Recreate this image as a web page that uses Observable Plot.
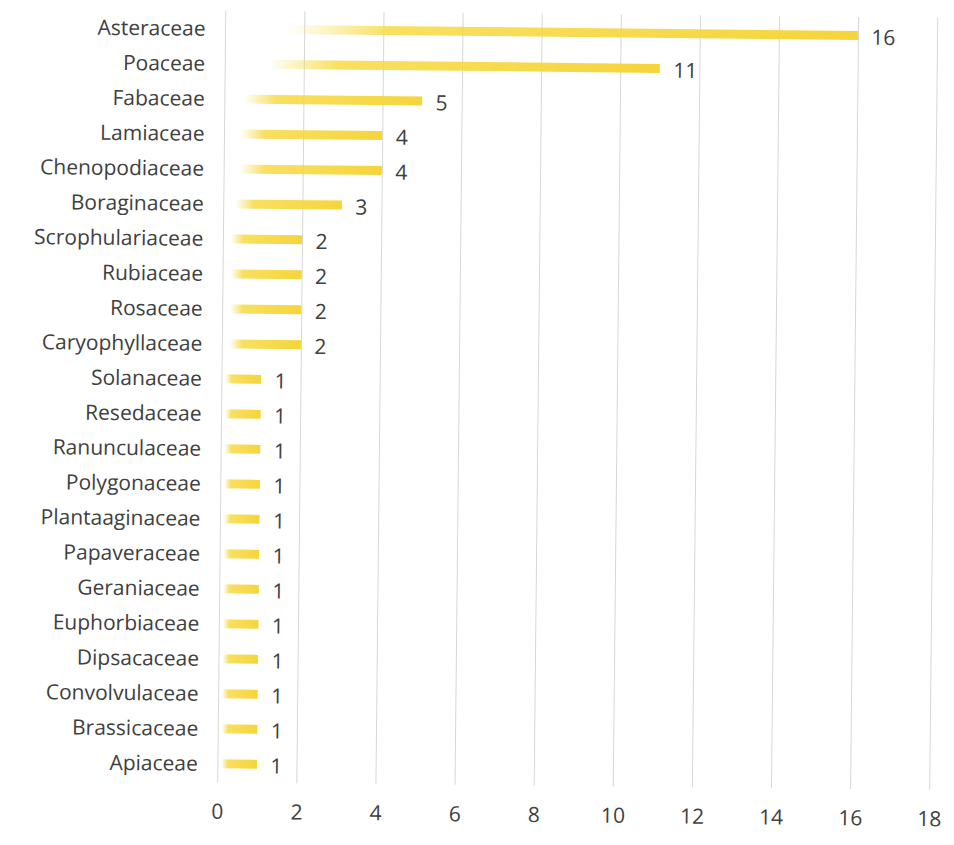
<!DOCTYPE html>
<html>
<head>
<meta charset="utf-8">
<script src="https://cdn.jsdelivr.net/npm/d3@7"></script>
<script src="https://cdn.jsdelivr.net/npm/@observablehq/plot@0.6"></script>
<style>
  html, body { margin: 0; padding: 0; background: #ffffff; overflow: hidden; }
  #chart { width: 954px; height: 845px; }
  #chart svg { transform: rotate(0.6deg); transform-origin: 50% 50%; }
</style>
</head>
<body>
<div id="chart"></div>
<script>
// Plant families and number of species recorded in each
const families = [
  "Asteraceae", "Poaceae", "Fabaceae", "Lamiaceae", "Chenopodiaceae",
  "Boraginaceae", "Scrophulariaceae", "Rubiaceae", "Rosaceae", "Caryophyllaceae",
  "Solanaceae", "Resedaceae", "Ranunculaceae", "Polygonaceae", "Plantaaginaceae",
  "Papaveraceae", "Geraniaceae", "Euphorbiaceae", "Dipsacaceae", "Convolvulaceae",
  "Brassicaceae", "Apiaceae"
];
const counts = [16, 11, 5, 4, 4, 3, 2, 2, 2, 2, 1, 1, 1, 1, 1, 1, 1, 1, 1, 1, 1, 1];
const xTicks = [0, 2, 4, 6, 8, 10, 12, 14, 16, 18];

const data = families.map((family, i) => ({family, count: counts[i]}));

const font = "'Open Sans', sans-serif";
const textColor = "#404040";

// Soft highlighter-style fill: fades in from the left of each bar
const gradientDefs = () => {
  const defs = d3.create("svg:defs");
  const g = defs.append("linearGradient")
    .attr("id", "barFade")
    .attr("x1", 0).attr("x2", 1).attr("y1", 0).attr("y2", 0);
  g.append("stop").attr("offset", "0.10").attr("stop-color", "#f7dc48").attr("stop-opacity", 0);
  g.append("stop").attr("offset", "0.26").attr("stop-color", "#f7da44").attr("stop-opacity", 0.85);
  g.append("stop").attr("offset", "1").attr("stop-color", "#f5d43c").attr("stop-opacity", 1);
  return defs.node();
};

const chart = Plot.plot({
  width: 954,
  height: 845,
  marginTop: 13,
  marginBottom: 60,
  marginLeft: 221,
  marginRight: 21,
  style: {fontFamily: font, fontSize: "21px", color: textColor, background: "#ffffff"},
  x: {domain: [0, 18], ticks: xTicks, label: null},
  y: {domain: families, padding: 0, label: null},
  marks: [
    gradientDefs,
    Plot.gridX(xTicks, {stroke: "#d6d6d6", strokeOpacity: 1, strokeWidth: 1}),
    Plot.barX(data, {
      x: "count", y: "family",
      fill: "url(#barFade)",
      insetTop: 13, insetBottom: 13
    }),
    Plot.text(data, {
      x: "count", y: "family", text: d => String(d.count),
      textAnchor: "start", dx: 13, dy: 2,
      fill: textColor, fontSize: 21
    }),
    Plot.axisY({tickSize: 0, tickPadding: 20, fontSize: 21, fill: textColor}),
    Plot.axisX({ticks: xTicks, tickSize: 0, tickPadding: 21, fontSize: 21, fill: textColor})
  ]
});

document.getElementById("chart").appendChild(chart);
</script>
</body>
</html>
